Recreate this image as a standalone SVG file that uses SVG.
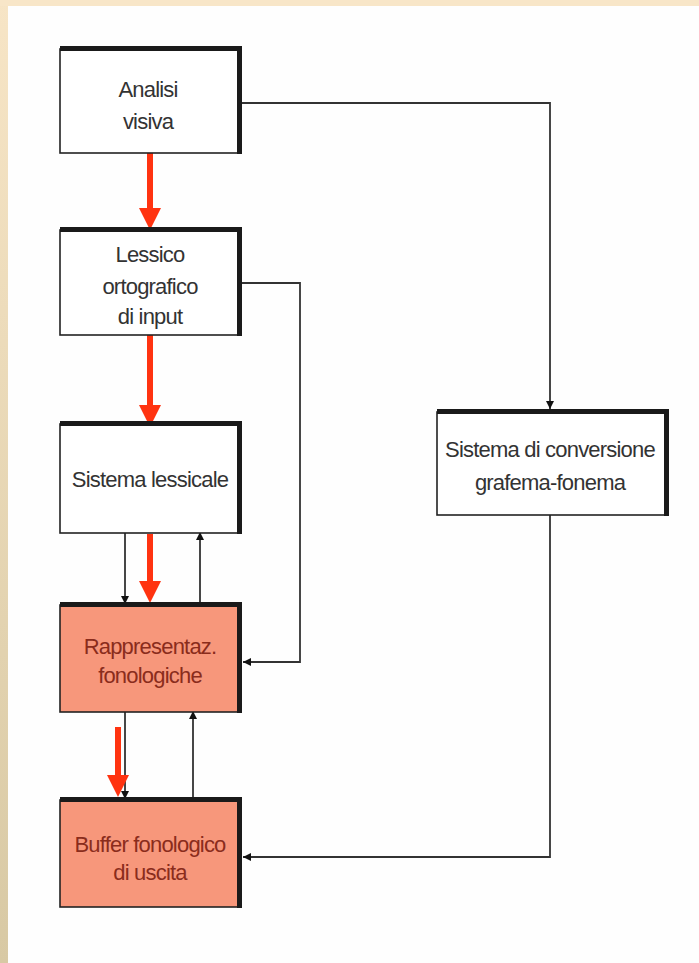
<svg xmlns="http://www.w3.org/2000/svg" width="699" height="963" viewBox="0 0 699 963">
<defs>
<linearGradient id="bg" x1="0" y1="0" x2="0" y2="1">
<stop offset="0" stop-color="#f7e5c6"/>
<stop offset="1" stop-color="#d8c9a4"/>
</linearGradient>
<marker id="redhead" markerUnits="userSpaceOnUse" markerWidth="22" markerHeight="22" refX="10" refY="11" orient="auto">
<path d="M0,0 L22,11 L0,22 z" fill="#ff3310"/>
</marker>
<marker id="blackhead" markerUnits="userSpaceOnUse" markerWidth="9" markerHeight="9" refX="8" refY="4.5" orient="auto">
<path d="M0,0.5 L8,4.5 L0,8.5 z" fill="#111"/>
</marker>
</defs>
<style>
.box{stroke:#222;stroke-width:1.6}
.white{fill:#ffffff}
.salmon{fill:#f7977b}
.edge{fill:#1a1a1a}
.t{font-family:"Liberation Sans",Arial,sans-serif;font-size:22px;letter-spacing:-0.8px;text-anchor:middle;fill:#333}
.ts{fill:#8a2c1c}
.conn{fill:none;stroke:#333;stroke-width:1.8}
.red{fill:none;stroke:#ff3310;stroke-width:6}
</style>
<rect x="0" y="0" width="699" height="963" fill="url(#bg)"/>
<rect x="0" y="0" width="699" height="6" fill="#f8e6c8"/>
<rect x="8" y="6" width="691" height="957" fill="#fefefe"/>

<g id="connectors">
<path class="conn" d="M240,103 H550 V409" marker-end="url(#blackhead)"/>
<path class="conn" d="M240,283 H300 V662 H243" marker-end="url(#blackhead)"/>
<path class="conn" d="M125,533 V604" marker-end="url(#blackhead)"/>
<path class="conn" d="M200,603 V532" marker-end="url(#blackhead)"/>
<path class="conn" d="M125,712 V799" marker-end="url(#blackhead)"/>
<path class="conn" d="M193,798 V711" marker-end="url(#blackhead)"/>
<path class="conn" d="M550,515 V857 H243" marker-end="url(#blackhead)"/>
<path class="red" d="M150,153 V218" marker-end="url(#redhead)"/>
<path class="red" d="M150,335 V415" marker-end="url(#redhead)"/>
<path class="red" d="M150,534 V591" marker-end="url(#redhead)"/>
<path class="red" d="M118,727 V785" marker-end="url(#redhead)"/>
</g>

<g id="analisi-visiva">
<rect class="box white" x="60" y="49" width="180" height="104"/>
<rect class="edge" x="60" y="46" width="182" height="5"/>
<rect class="edge" x="237" y="46" width="5" height="108"/>
<text class="t" x="148" y="97">Analisi</text>
<text class="t" x="148" y="129">visiva</text>
</g>

<g id="lessico-ortografico">
<rect class="box white" x="60" y="230" width="180" height="105"/>
<rect class="edge" x="60" y="227" width="182" height="5"/>
<rect class="edge" x="237" y="227" width="5" height="109"/>
<text class="t" x="150" y="262">Lessico</text>
<text class="t" x="150" y="294">ortografico</text>
<text class="t" x="150" y="324">di input</text>
</g>

<g id="sistema-lessicale">
<rect class="box white" x="60" y="424" width="180" height="109"/>
<rect class="edge" x="60" y="421" width="182" height="5"/>
<rect class="edge" x="237" y="421" width="5" height="113"/>
<text class="t" x="150" y="487">Sistema lessicale</text>
</g>

<g id="rappresentaz-fonologiche">
<rect class="box salmon" x="60" y="605" width="180" height="107"/>
<rect class="edge" x="60" y="602" width="182" height="5"/>
<rect class="edge" x="237" y="602" width="5" height="111"/>
<text class="t ts" x="150" y="654">Rappresentaz.</text>
<text class="t ts" x="150" y="683">fonologiche</text>
</g>

<g id="buffer-fonologico">
<rect class="box salmon" x="60" y="800" width="180" height="107"/>
<rect class="edge" x="60" y="797" width="182" height="5"/>
<rect class="edge" x="237" y="797" width="5" height="111"/>
<text class="t ts" x="150" y="852">Buffer fonologico</text>
<text class="t ts" x="150" y="880">di uscita</text>
</g>

<g id="sistema-conversione">
<rect class="box white" x="437" y="412" width="230" height="103"/>
<rect class="edge" x="437" y="409" width="232" height="5"/>
<rect class="edge" x="664" y="409" width="5" height="107"/>
<text class="t" x="550" y="457">Sistema di conversione</text>
<text class="t" x="550" y="490">grafema-fonema</text>
</g>
</svg>
